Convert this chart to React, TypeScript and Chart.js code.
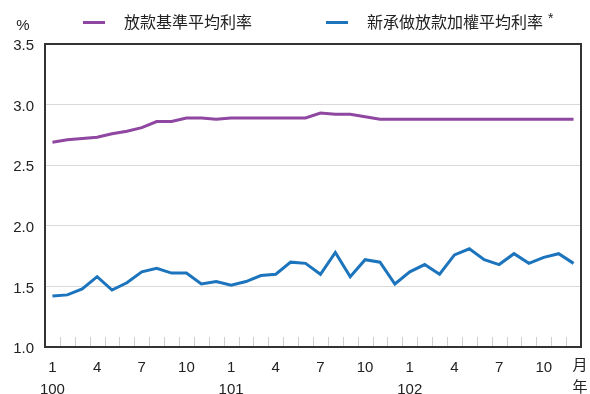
import React, { useEffect, useRef } from "react";
import { Chart, registerables } from "chart.js";

Chart.register(...registerables);

// Calendar axis: ROC years and months
const YEARS = ["100", "101", "102"];
const MONTHS = [1, 2, 3, 4, 5, 6, 7, 8, 9, 10, 11, 12];
const LABELED_MONTHS = [1, 4, 7, 10];

// Series names
const SERIES_BASE = "放款基準平均利率";
const SERIES_NEW = "新承做放款加權平均利率";

// Base lending rate (%), monthly
const baseRate = [
  2.69, 2.71, 2.72, 2.73, 2.76, 2.78, 2.81, 2.86, 2.86, 2.89, 2.89, 2.88,
  2.89, 2.89, 2.89, 2.89, 2.89, 2.89, 2.93, 2.92, 2.92, 2.9, 2.88, 2.88,
  2.88, 2.88, 2.88, 2.88, 2.88, 2.88, 2.88, 2.88, 2.88, 2.88, 2.88, 2.88,
];

// Weighted average rate on new loans (%), monthly
const newLoanRate = [
  1.42, 1.43, 1.48, 1.58, 1.47, 1.53, 1.62, 1.65, 1.61, 1.61, 1.52, 1.54,
  1.51, 1.54, 1.59, 1.6, 1.7, 1.69, 1.6, 1.78, 1.58, 1.72, 1.7, 1.52,
  1.62, 1.68, 1.6, 1.76, 1.81, 1.72, 1.68, 1.77, 1.69, 1.74, 1.77, 1.69,
];

// Y axis range (%)
const Y_MIN = 1.0;
const Y_MAX = 3.5;
const Y_STEP = 0.5;

const PURPLE = "#8f47a1";
const BLUE = "#1c74bd";
const TEXT = "#222";
const NUM_FONT = "'Liberation Sans', Arial, sans-serif";
const CJK_FONT = "'Noto Sans CJK TC', 'Noto Sans', sans-serif";

const labels: string[] = [];
YEARS.forEach((y) => MONTHS.forEach((m) => labels.push(`${y}/${m}`)));

const decorPlugin = {
  id: "decor",
  afterDraw(chart: any) {
    const { ctx, chartArea } = chart;
    const xs = chart.scales.x;
    const { left, right, top, bottom } = chartArea;
    ctx.save();

    // short month tick marks at category boundaries
    ctx.strokeStyle = "#cfcfcf";
    ctx.lineWidth = 1;
    for (let i = 1; i < labels.length; i++) {
      const x = Math.round((xs.getPixelForValue(i - 1) + xs.getPixelForValue(i)) / 2) + 0.5;
      ctx.beginPath();
      ctx.moveTo(x, bottom);
      ctx.lineTo(x, bottom - 10);
      ctx.stroke();
    }

    // frame around the plot area
    ctx.strokeStyle = "#333";
    ctx.lineWidth = 2;
    ctx.strokeRect(left, top, right - left, bottom - top);

    ctx.fillStyle = TEXT;
    ctx.textBaseline = "middle";
    ctx.textAlign = "center";

    // unit label
    ctx.font = `15px ${NUM_FONT}`;
    ctx.fillText("%", 23, 26);

    // axis unit labels on the right
    ctx.font = `15px ${CJK_FONT}`;
    ctx.fillText("月", right - 1, 364);
    ctx.fillText("年", right - 1, 386);

    // legend
    const drawItem = (x: number, color: string, text: string) => {
      ctx.strokeStyle = color;
      ctx.lineWidth = 3;
      ctx.beginPath();
      ctx.moveTo(x, 22.5);
      ctx.lineTo(x + 22, 22.5);
      ctx.stroke();
      ctx.fillStyle = TEXT;
      ctx.textAlign = "left";
      ctx.font = `16px ${CJK_FONT}`;
      ctx.fillText(text, x + 41, 22);
      return x + 41 + ctx.measureText(text).width;
    };
    drawItem(83, PURPLE, SERIES_BASE);
    const end = drawItem(326, BLUE, SERIES_NEW);
    ctx.font = `14px ${NUM_FONT}`;
    ctx.fillText("*", end + 5, 19);

    ctx.restore();
  },
};

export default function App() {
  const canvasRef = useRef<HTMLCanvasElement>(null);

  useEffect(() => {
    document.body.style.margin = "0";
    const canvas = canvasRef.current;
    if (!canvas) return;
    const chart = new Chart(canvas, {
      type: "line",
      data: {
        labels,
        datasets: [
          {
            label: SERIES_BASE,
            data: baseRate,
            borderColor: PURPLE,
            backgroundColor: PURPLE,
            borderWidth: 3,
            pointRadius: 0,
            tension: 0,
          },
          {
            label: SERIES_NEW,
            data: newLoanRate,
            borderColor: BLUE,
            backgroundColor: BLUE,
            borderWidth: 3,
            pointRadius: 0,
            tension: 0,
          },
        ],
      },
      options: {
        responsive: false,
        animation: false,
        devicePixelRatio: 1,
        layout: { padding: { top: 44, right: 9, left: 0, bottom: 0 } },
        plugins: {
          legend: { display: false },
          tooltip: { enabled: false },
        },
        scales: {
          x: {
            type: "category",
            offset: true,
            grid: { display: false },
            border: { display: false },
            afterFit: (s: any) => {
              s.height = 47;
            },
            ticks: {
              autoSkip: false,
              maxRotation: 0,
              minRotation: 0,
              padding: 2,
              color: TEXT,
              font: { family: NUM_FONT, size: 15, lineHeight: 22 / 15 },
              callback: (_v: any, i: number) => {
                const m = MONTHS[i % 12];
                if (!LABELED_MONTHS.includes(m)) return "";
                if (m === 1) return [String(m), YEARS[Math.floor(i / 12)]];
                return String(m);
              },
            },
          },
          y: {
            min: Y_MIN,
            max: Y_MAX,
            border: { display: false },
            grid: { color: "#d9d9d9", lineWidth: 1, drawTicks: false },
            afterFit: (s: any) => {
              s.width = 45;
            },
            ticks: {
              stepSize: Y_STEP,
              padding: 11,
              labelOffset: 2,
              color: TEXT,
              font: { family: NUM_FONT, size: 15 },
              callback: (v: any) => Number(v).toFixed(1),
            },
          },
        },
      },
      plugins: [decorPlugin],
    });
    return () => chart.destroy();
  }, []);

  return (
    <div style={{ position: "absolute", left: 0, top: 0, width: 590, height: 394 }}>
      <canvas ref={canvasRef} width={590} height={394} />
    </div>
  );
}
